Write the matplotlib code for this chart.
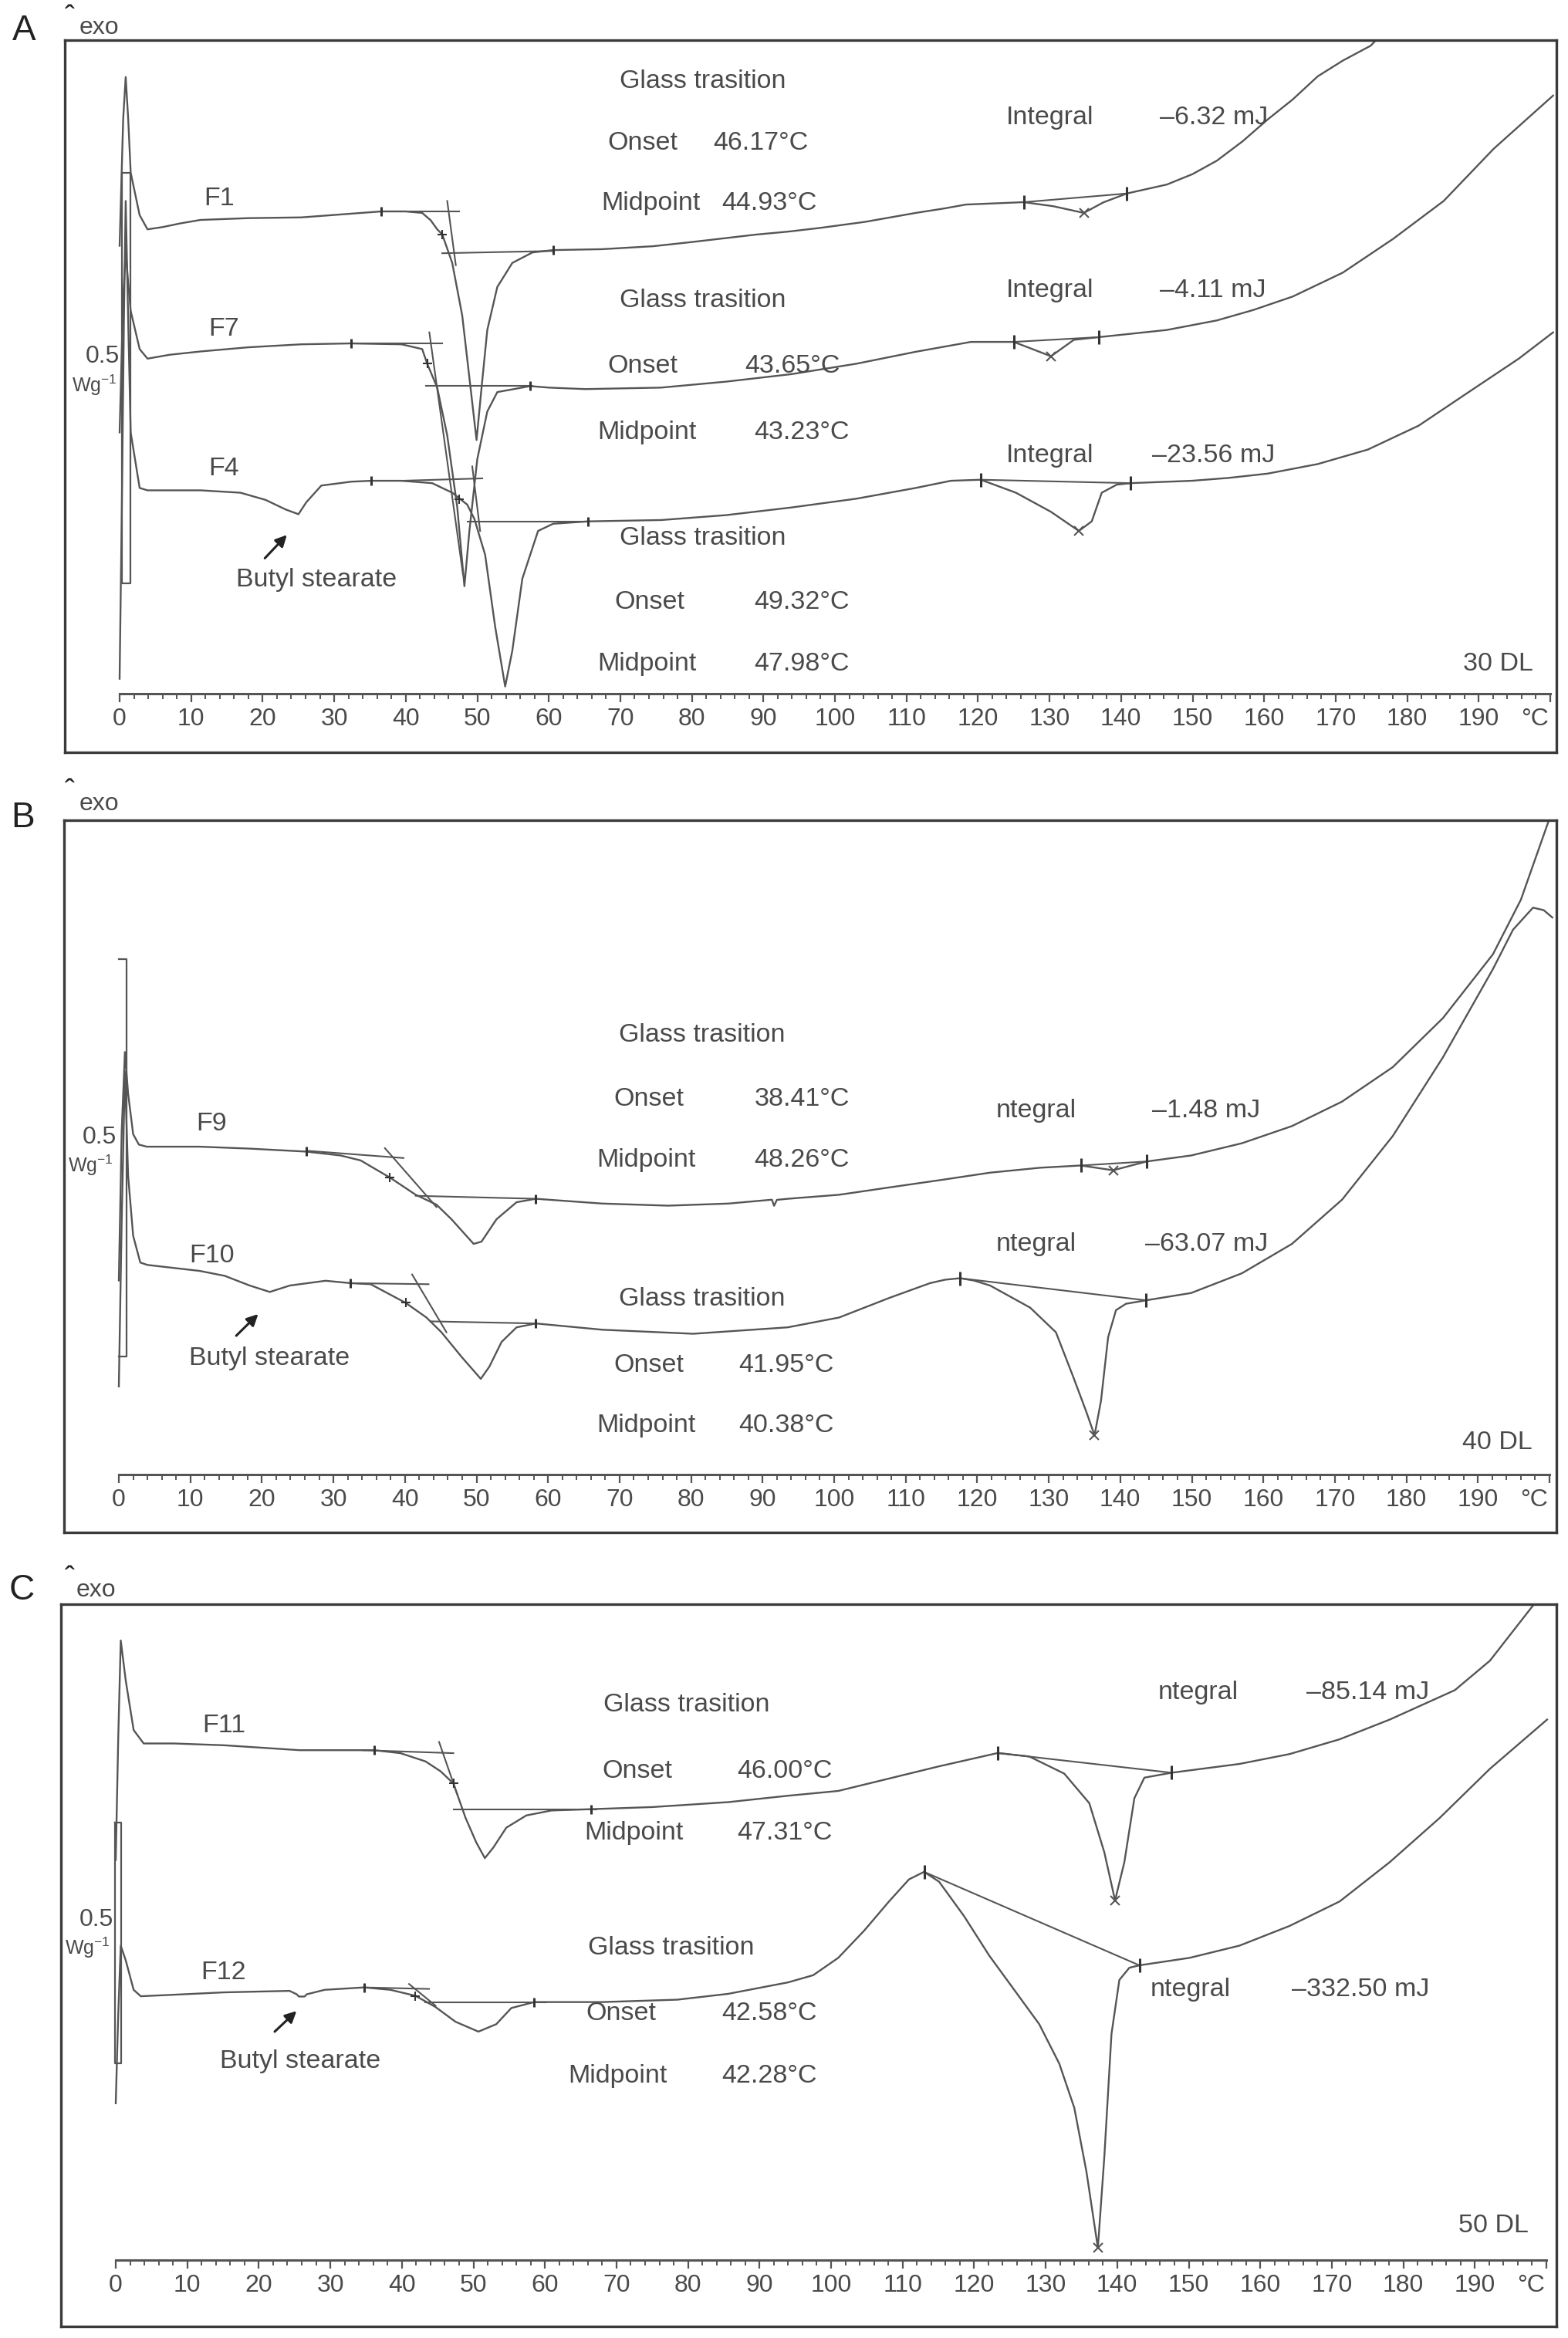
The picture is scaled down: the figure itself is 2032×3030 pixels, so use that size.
import matplotlib
matplotlib.use("Agg")
import matplotlib.pyplot as plt
from matplotlib.ticker import FixedLocator, FixedFormatter

plt.rcParams['font.family'] = ['Liberation Sans', 'DejaVu Sans']
plt.rcParams['mathtext.fontset'] = 'custom'
plt.rcParams['mathtext.rm'] = 'Liberation Sans'
plt.rcParams['mathtext.it'] = 'Liberation Sans:italic'

# ======================= DATA (temperature in degC, heat flow in arbitrary offset units) =======================
# ---- Panel A (30 DL) ----
F1_T = [0.0, 0.5, 0.85, 1.2, 1.55, 2.8, 3.9, 6.0, 8.5, 11.3, 18.0, 25.4, 31.0, 36.6, 40.0, 42.3, 43.5, 44.4, 45.1,
        46.5, 47.9, 48.9, 49.9, 50.6, 51.4, 52.8, 54.9, 57.7, 60.6, 67.4, 74.6, 80.0, 89.0, 93.5, 98.0, 104.2,
        111.3, 115.3, 118.3, 126.4, 130.5, 134.8, 137.5, 140.8, 146.4, 150.0, 153.4, 157.0, 160.5, 164.0, 167.5,
        171.0, 174.9, 176.5]
F1_h = [300, 385, 413, 385, 349, 320.5, 311, 312.5, 315, 317.3, 318.5, 319, 321, 323, 323, 322, 317, 311, 307.7,
        288.5, 253.2, 211.5, 169.9, 205, 243.6, 272.4, 288.5, 295.5, 297.1, 297.7, 299.7, 302.5, 307.5, 309.5,
        312, 316, 322, 325, 327.6, 329.2, 326.5, 322, 329, 335, 341, 348, 357, 370, 384.6, 398, 413.5,
        424, 434, 442]
F7_T = [0.0, 0.5, 0.85, 1.2, 1.55, 2.8, 3.9, 7.0, 11.3, 18.0, 25.4, 32.4, 39.4, 42.3, 43.0, 44.4, 45.8, 47.2,
        48.2, 48.9, 50.0, 51.4, 52.8, 57.4, 60.0, 65.1, 75.7, 84.8, 93.9, 103.0, 111.3, 119.0, 125.0, 127.5,
        130.2, 133.4, 136.9, 146.4, 153.4, 158.5, 164.0, 171.0, 178.0, 185.1, 192.1, 200.4]
F7_h = [175, 265, 296.5, 275, 256.4, 230.8, 224.4, 227, 229.2, 232, 234, 234.6, 234, 230.8, 221, 205, 173, 125,
        72, 109, 157, 189, 202, 206, 205, 204, 205, 209, 214, 221, 229, 235.6, 235.6, 231,
        226, 237, 238.8, 243.6, 250, 257, 266, 282, 304.5, 330, 365, 400.6]
F4_T = [0.0, 0.3, 0.6, 0.85, 1.2, 1.55, 2.8, 3.9, 11.3, 16.9, 20.4, 23.2, 25.0, 26.1, 28.2, 32.4, 35.2, 39.4,
        43.7, 46.5, 48.6, 49.6, 51.1, 52.5, 53.9, 54.9, 56.3, 58.5, 60.6, 65.5, 75.7, 84.8, 93.9, 103.0, 111.3,
        116.2, 120.4, 125.3, 130.2, 134.1, 135.9, 137.3, 139.4, 141.3, 149.9, 155.0, 160.5, 167.5, 174.5, 181.6,
        188.6, 195.6, 200.4]
F4_h = [10, 120, 250, 330, 250, 175, 137.8, 136.2, 136.2, 134.6, 129.8, 123.4, 120.2, 128.2, 139.4, 142, 142.6,
        142.6, 141, 134.6, 126.6, 117, 93, 44.9, 4.8, 28.8, 77, 109, 113.8, 115.4, 116.3, 119.6, 124.7, 130.6,
        137.8, 142.6, 143.3, 134.6, 121.8, 109, 115.4, 134.6, 140, 141, 142.6, 144.5, 147.4, 153.8, 163.5, 179.5,
        202, 224.4, 242]
A_tan_T = [[36.6, 47.5], [45.8, 47.0], [45.1, 60.6], [32.4, 45.1], [43.3, 48.0], [42.8, 57.7],
           [39.4, 50.7], [49.3, 50.4], [48.6, 65.5]]
A_tan_h = [[323, 323], [330, 287], [295, 296.5], [234.6, 234.6], [242, 80], [206, 206],
           [142.6, 144.2], [152.2, 109], [115.4, 115.4]]
A_int_T = [[126.4, 140.8], [125.0, 136.9], [120.4, 141.3]]
A_int_h = [[329.2, 335.0], [235.6, 238.8], [143.3, 141.0]]
A_peak_T = [134.8, 130.2, 134.1]
A_peak_h = [322, 226, 109]
A_lim_T = [36.6, 60.6, 32.4, 57.4, 35.2, 65.5]
A_lim_h = [323, 297, 234.6, 206, 142.6, 115.4]
A_mid_T = [45.1, 43.0, 47.5]
A_mid_h = [307.7, 221, 130]

# ---- Panel B (40 DL) ----
F9_T = [0.0, 0.4, 0.85, 1.3, 2.0, 2.8, 3.9, 11.3, 18.3, 26.2, 31.0, 33.8, 37.9, 41.5, 44.4, 46.5, 49.6, 50.7,
        52.8, 55.6, 58.3, 67.6, 76.8, 85.2, 91.3, 91.6, 92.0, 93.5, 100.7, 107.7, 114.8, 121.8, 128.8, 134.5,
        139.0, 143.7, 149.9, 157.0, 164.0, 171.0, 178.1, 185.1, 192.1, 196.0, 199.9]
F9_h = [130, 230, 283, 255, 228, 221, 219.6, 219.6, 218.3, 216.3, 213.7, 210.4, 198.9, 187.4, 180.8, 171, 154.5,
        156, 171, 182.4, 184.7, 181.5, 180.1, 181.5, 184.1, 180, 184, 184.7, 187.4, 192.3, 197.2, 202.2, 205.5,
        207, 203.8, 209.7, 213.7, 221.9, 233.4, 249.8, 272.9, 305.7, 348.5, 385, 438]
F10_T = [0.0, 0.4, 0.85, 1.3, 2.0, 3.0, 4.0, 11.3, 14.8, 18.3, 21.1, 23.9, 28.9, 32.4, 35.2, 40.1, 43.0, 45.1,
         47.9, 50.6, 51.8, 53.5, 55.6, 58.3, 67.6, 80.3, 93.5, 100.7, 107.7, 113.4, 115.5, 117.6, 119.5, 121.8,
         127.4, 131.0, 133.4, 135.2, 136.4, 137.3, 138.3, 139.4, 140.8, 143.6, 149.9, 157.0, 164.0, 171.0, 178.1,
         185.1, 192.1, 194.9, 197.7, 199.2, 200.4]
F10_h = [59, 170, 270, 200, 160, 142, 140.4, 136.4, 133.1, 126.6, 122.3, 126.6, 129.8, 128.2, 127.5, 115, 105.2,
         95.3, 78.9, 64.1, 72.3, 88.8, 98.6, 101.2, 97, 94.3, 98.6, 105.2, 118.3, 128.2, 130.5, 131.5, 130, 126.6,
         111.8, 95.3, 65.7, 42.7, 26.3, 49.3, 92, 110.1, 114.4, 116.7, 121.6, 134.8, 154.5, 184.1, 226.8,
         279.4, 338.6, 364.9, 379.7, 378, 373.1]
B_tan_T = [[26.2, 39.8], [37.2, 44.4], [41.5, 58.3], [32.4, 43.3], [41.0, 45.8], [43.7, 58.3]]
B_tan_h = [[216.9, 212.0], [218.6, 179.2], [186.7, 184.7], [128.2, 127.5], [134.0, 95.3], [102.6, 101.2]]
B_int_T = [[134.5, 143.7], [117.6, 143.6]]
B_int_h = [[207.0, 209.7], [131.5, 116.7]]
B_peak_T = [139.0, 136.4]
B_peak_h = [203.8, 26.3]
B_lim_T = [26.2, 58.3, 32.4, 58.3]
B_lim_h = [216.3, 184.7, 128.2, 101.2]
B_mid_T = [37.9, 40.1]
B_mid_h = [198.9, 115.0]

# ---- Panel C (50 DL) ----
F11_T = [0.0, 0.35, 0.7, 1.4, 2.5, 3.9, 8.1, 15.1, 25.7, 36.1, 39.8, 43.3, 45.4, 47.2, 48.9, 50.4, 51.6, 52.8,
         54.6, 57.4, 60.9, 66.5, 75.0, 85.6, 94.0, 101.0, 108.1, 115.1, 123.3, 127.7, 132.6, 136.1, 138.2, 139.7,
         141.0, 142.4, 143.8, 147.6, 157.1, 164.1, 171.1, 178.1, 187.2, 192.1, 198.0, 199.5]
F11_h = [268, 350, 415, 388, 355, 346, 346, 344.8, 341.5, 341.5, 339.5, 334, 327.4, 319.2, 296.2, 279.7, 269.2,
         276.4, 289.6, 297.8, 301.1, 302, 303.4, 306.7, 311, 314.2, 322.5, 330.7, 339.6, 337.3, 325.8, 306, 273.1,
         240.9, 266.5, 309.3, 323.1, 326.4, 332.3, 338.9, 348.8, 362, 381.7, 401.4, 437.6, 446]
F12_T = [0.0, 0.35, 0.7, 1.4, 2.5, 3.5, 8.1, 15.1, 24.3, 25.3, 25.6, 26.4, 26.7, 29.2, 34.7, 38.4, 41.9, 44.7,
         47.5, 50.7, 53.2, 55.3, 58.5, 68.0, 78.5, 85.6, 94.0, 97.5, 101.0, 104.6, 108.1, 110.9, 113.0, 115.1,
         118.6, 122.1, 125.6, 129.1, 131.9, 134.0, 135.7, 137.3, 138.2, 139.2, 140.3, 141.7, 143.1, 150.1, 157.1,
         164.1, 171.1, 178.1, 185.1, 192.1, 200.1]
F12_h = [105, 165, 210.6, 200.7, 181, 176.7, 177.7, 179.3, 180.3, 178, 176.5, 176.5, 178, 181, 182.6, 181, 177,
         169.5, 159.6, 153, 158, 168.8, 172.8, 172.8, 174.4, 178.3, 186, 190.8, 202.4, 220.5, 240.2, 255, 260,
         253.4, 230.3, 204, 181, 158, 131.6, 102, 59.2, 8.2, 69.1, 151.4, 187.6, 195.8, 197.4, 202.4, 210.6,
         223.8, 240.2, 266.5, 296.2, 329, 362]
C_tan_T = [[34.5, 47.2], [45.2, 47.7], [47.2, 67.2], [34.7, 43.8], [41.0, 44.7], [43.3, 60.2]]
C_tan_h = [[341.5, 339.5], [347.0, 312.5], [302.0, 302.0], [182.6, 181.6], [184.9, 170.4], [172.8, 172.8]]
C_int_T = [[123.3, 147.6], [113.0, 143.1]]
C_int_h = [[339.6, 326.4], [260.0, 197.4]]
C_peak_T = [139.7, 137.3]
C_peak_h = [240.9, 8.2]
C_lim_T = [36.1, 66.5, 34.7, 58.5]
C_lim_h = [341.5, 302.0, 182.6, 172.8]
C_mid_T = [47.2, 41.9]
C_mid_h = [319.2, 177.0]

XTICKS = list(range(0, 201, 10))
XTICK_LABELS = [str(v) for v in range(0, 200, 10)] + ['']

# ======================= STYLE / LAYOUT =======================
W, H = 2032, 3030
fig = plt.figure(figsize=(W / 100, H / 100), dpi=100)
LINE = '#555555'
TXT = '#4a4a4a'
FRAME = '#3a3a3a'
FS = 24.5
TFS = 23
PX_PER_C = 9.27
PX_PER_U = 1.935


def panel(frame, x0, axis_y, curves, tan_T, tan_h, int_T, int_h, pk_T, pk_h, lim_T, lim_h, mid_T, mid_h,
          bar, texts, labels, bs, arrow, scale_lbl, dl):
    l, r, t, b = frame
    ax = fig.add_axes([l / W, 1 - b / H, (r - l) / W, (b - t) / H])
    ax.set_xlim((l - x0) / PX_PER_C, (r - x0) / PX_PER_C)
    ax.set_ylim(-(b - axis_y) / PX_PER_U, (axis_y - t) / PX_PER_U)
    ax.set_xticks([])
    ax.set_yticks([])
    for s in ax.spines.values():
        s.set_color(FRAME)
        s.set_linewidth(2.4)
    y0, y1 = ax.get_ylim()
    sec = ax.secondary_xaxis(-y0 / (y1 - y0))
    sec.spines['bottom'].set_bounds(0, 200)
    sec.spines['bottom'].set_color(LINE)
    sec.spines['bottom'].set_linewidth(2.2)
    sec.xaxis.set_major_locator(FixedLocator(XTICKS))
    sec.xaxis.set_major_formatter(FixedFormatter(XTICK_LABELS))
    sec.xaxis.set_minor_locator(FixedLocator(list(range(0, 201, 2))))
    sec.tick_params(which='major', length=8, width=1.6, color=LINE, direction='out',
                    labelsize=TFS, labelcolor=TXT, pad=5)
    sec.tick_params(which='minor', length=5, width=1.4, color=LINE, direction='out')
    ax.annotate('°C', xy=(197.8, 0), xytext=(0, -13), textcoords='offset points',
                ha='center', va='top', fontsize=TFS, color=TXT)

    for cT, ch in curves:
        ax.plot(cT, ch, color=LINE, lw=1.7, solid_joinstyle='round')
    for tT, th in zip(tan_T, tan_h):
        ax.plot(tT, th, color=LINE, lw=1.5)
    for iT, ih in zip(int_T, int_h):
        ax.plot(iT, ih, color=LINE, lw=1.5)
        ax.plot(iT, ih, ls='none', marker='|', ms=13, mew=2.2, color='#333333')
    ax.plot(pk_T, pk_h, ls='none', marker='x', ms=8, mew=1.5, color=LINE)
    ax.plot(lim_T, lim_h, ls='none', marker='|', ms=9, mew=2.2, color='#333333')
    ax.plot(mid_T, mid_h, ls='none', marker='+', ms=9, mew=1.5, color='#333333')

    bl, br, bt, bb, closed = bar
    bx = [bl, br, br, bl] + ([bl] if closed else [])
    by = [bt, bt, bb, bb] + ([bt] if closed else [])
    ax.plot(bx, by, color=LINE, lw=1.6)

    for s, tx, ty, ha in texts:
        ax.text(tx, ty, s, ha=ha, va='center', fontsize=FS, color=TXT)
    for s, tx, ty in labels:
        ax.text(tx, ty, s, ha='center', va='center', fontsize=FS, color=TXT)
    ax.text(bs[0], bs[1], 'Butyl stearate', ha='center', va='center', fontsize=FS, color=TXT)
    ax.annotate('', xy=arrow[1], xytext=arrow[0],
                arrowprops=dict(arrowstyle='-|>', color='#222222', lw=2.2, mutation_scale=22))
    ax.text(scale_lbl[0], scale_lbl[1], '0.5', ha='right', va='center', fontsize=23, color=TXT)
    ax.text(scale_lbl[2], scale_lbl[3], r'$\mathregular{Wg^{-1}}$', ha='center', va='center',
            fontsize=18, color=TXT)
    ax.text(dl[1], dl[2], dl[0], ha='right', va='center', fontsize=FS, color=TXT)
    return ax


# ---------- Panel A ----------
panel((84, 2017, 52, 975), 155, 899,
      [(F1_T, F1_h), (F7_T, F7_h), (F4_T, F4_h)],
      A_tan_T, A_tan_h, A_int_T, A_int_h, A_peak_T, A_peak_h, A_lim_T, A_lim_h, A_mid_T, A_mid_h,
      (0.35, 1.55, 348.7, 73.7, True),
      [('Glass trasition', 81.5, 410, 'center'),
       ('Onset', 68.2, 368.6, 'left'), ('46.17°C', 83.0, 368.6, 'left'),
       ('Midpoint', 67.3, 328.5, 'left'), ('44.93°C', 84.2, 328.5, 'left'),
       ('Glass trasition', 81.5, 263.5, 'center'),
       ('Onset', 68.2, 219.6, 'left'), ('43.65°C', 87.4, 219.6, 'left'),
       ('Midpoint', 66.8, 174.7, 'left'), ('43.23°C', 88.7, 174.7, 'left'),
       ('Glass trasition', 81.5, 104, 'center'),
       ('Onset', 69.2, 61, 'left'), ('49.32°C', 88.7, 61, 'left'),
       ('Midpoint', 66.8, 19.9, 'left'), ('47.98°C', 88.7, 19.9, 'left'),
       ('Integral', 123.9, 386, 'left'), ('–6.32 mJ', 145.4, 386, 'left'),
       ('Integral', 123.9, 270.2, 'left'), ('–4.11 mJ', 145.4, 270.2, 'left'),
       ('Integral', 123.9, 159.6, 'left'), ('–23.56 mJ', 144.3, 159.6, 'left')],
      [('F1', 13.9, 331.7), ('F7', 14.6, 244.2), ('F4', 14.6, 150.6)],
      (27.5, 76), ((20.1, 89.7), (23.6, 107.4)),
      (0.0, 226, -3.5, 206.7), ('30 DL', 197.6, 19.9))

# ---------- Panel B ----------
panel((83, 2017, 1063, 1986), 154, 1911,
      [(F9_T, F9_h), (F10_T, F10_h)],
      B_tan_T, B_tan_h, B_int_T, B_int_h, B_peak_T, B_peak_h, B_lim_T, B_lim_h, B_mid_T, B_mid_h,
      (0.0, 1.06, 345, 78.9, False),
      [('Glass trasition', 81.5, 294.2, 'center'),
       ('Onset', 69.2, 251.5, 'left'), ('38.41°C', 88.8, 251.5, 'left'),
       ('Midpoint', 66.8, 210.4, 'left'), ('48.26°C', 88.8, 210.4, 'left'),
       ('Glass trasition', 81.5, 117.7, 'center'),
       ('Onset', 69.2, 73, 'left'), ('41.95°C', 86.7, 73, 'left'),
       ('Midpoint', 66.8, 32.9, 'left'), ('40.38°C', 86.7, 32.9, 'left'),
       ('ntegral', 122.6, 243.9, 'left'), ('–1.48 mJ', 144.4, 243.9, 'left'),
       ('ntegral', 122.6, 154.5, 'left'), ('–63.07 mJ', 143.5, 154.5, 'left')],
      [('F9', 13.0, 235), ('F10', 13.0, 146.3)],
      (21.1, 77.9), ((16.2, 92), (19.7, 108.5)),
      (-0.35, 226, -3.9, 207), ('40 DL', 197.6, 21.4))

# ---------- Panel C ----------
panel((79, 2017, 2079, 3015), 150, 2929,
      [(F11_T, F11_h), (F12_T, F12_h)],
      C_tan_T, C_tan_h, C_int_T, C_int_h, C_peak_T, C_peak_h, C_lim_T, C_lim_h, C_mid_T, C_mid_h,
      (-0.1, 0.8, 292.9, 131.6, True),
      [('Glass trasition', 79.8, 371.8, 'center'),
       ('Onset', 68.0, 327.4, 'left'), ('46.00°C', 86.9, 327.4, 'left'),
       ('Midpoint', 65.5, 286.3, 'left'), ('47.31°C', 86.9, 286.3, 'left'),
       ('Glass trasition', 77.6, 209, 'center'),
       ('Onset', 65.7, 165.2, 'left'), ('42.58°C', 84.7, 165.2, 'left'),
       ('Midpoint', 63.2, 123.4, 'left'), ('42.28°C', 84.7, 123.4, 'left'),
       ('ntegral', 145.7, 380, 'left'), ('–85.14 mJ', 166.5, 380, 'left'),
       ('ntegral', 144.6, 181, 'left'), ('–332.50 mJ', 164.4, 181, 'left')],
      [('F11', 15.1, 358), ('F12', 15.1, 192.5)],
      (25.8, 133.3), ((22.0, 152), (25.5, 167.8)),
      (-0.35, 227.7, -3.9, 209), ('50 DL', 197.5, 23))

# ---------- panel letters and "exo" marks ----------
for letter, (lx, ly), (cx, cy), (ex, ey) in [('A', (31, 40), (90, 24), (128, 36)),
                                             ('B', (30, 1060), (90, 1027), (128, 1042)),
                                             ('C', (28, 2061), (90, 2047), (124, 2061))]:
    fig.text(lx / W, 1 - ly / H, letter, ha='center', va='center', fontsize=33, color='#222222')
    fig.text(cx / W, 1 - cy / H, 'ˆ', ha='center', va='center', fontsize=28, color='#222222')
    fig.text(ex / W, 1 - ey / H, 'exo', ha='center', va='center', fontsize=23, color=TXT)

fig.savefig('out.png', dpi=100)
